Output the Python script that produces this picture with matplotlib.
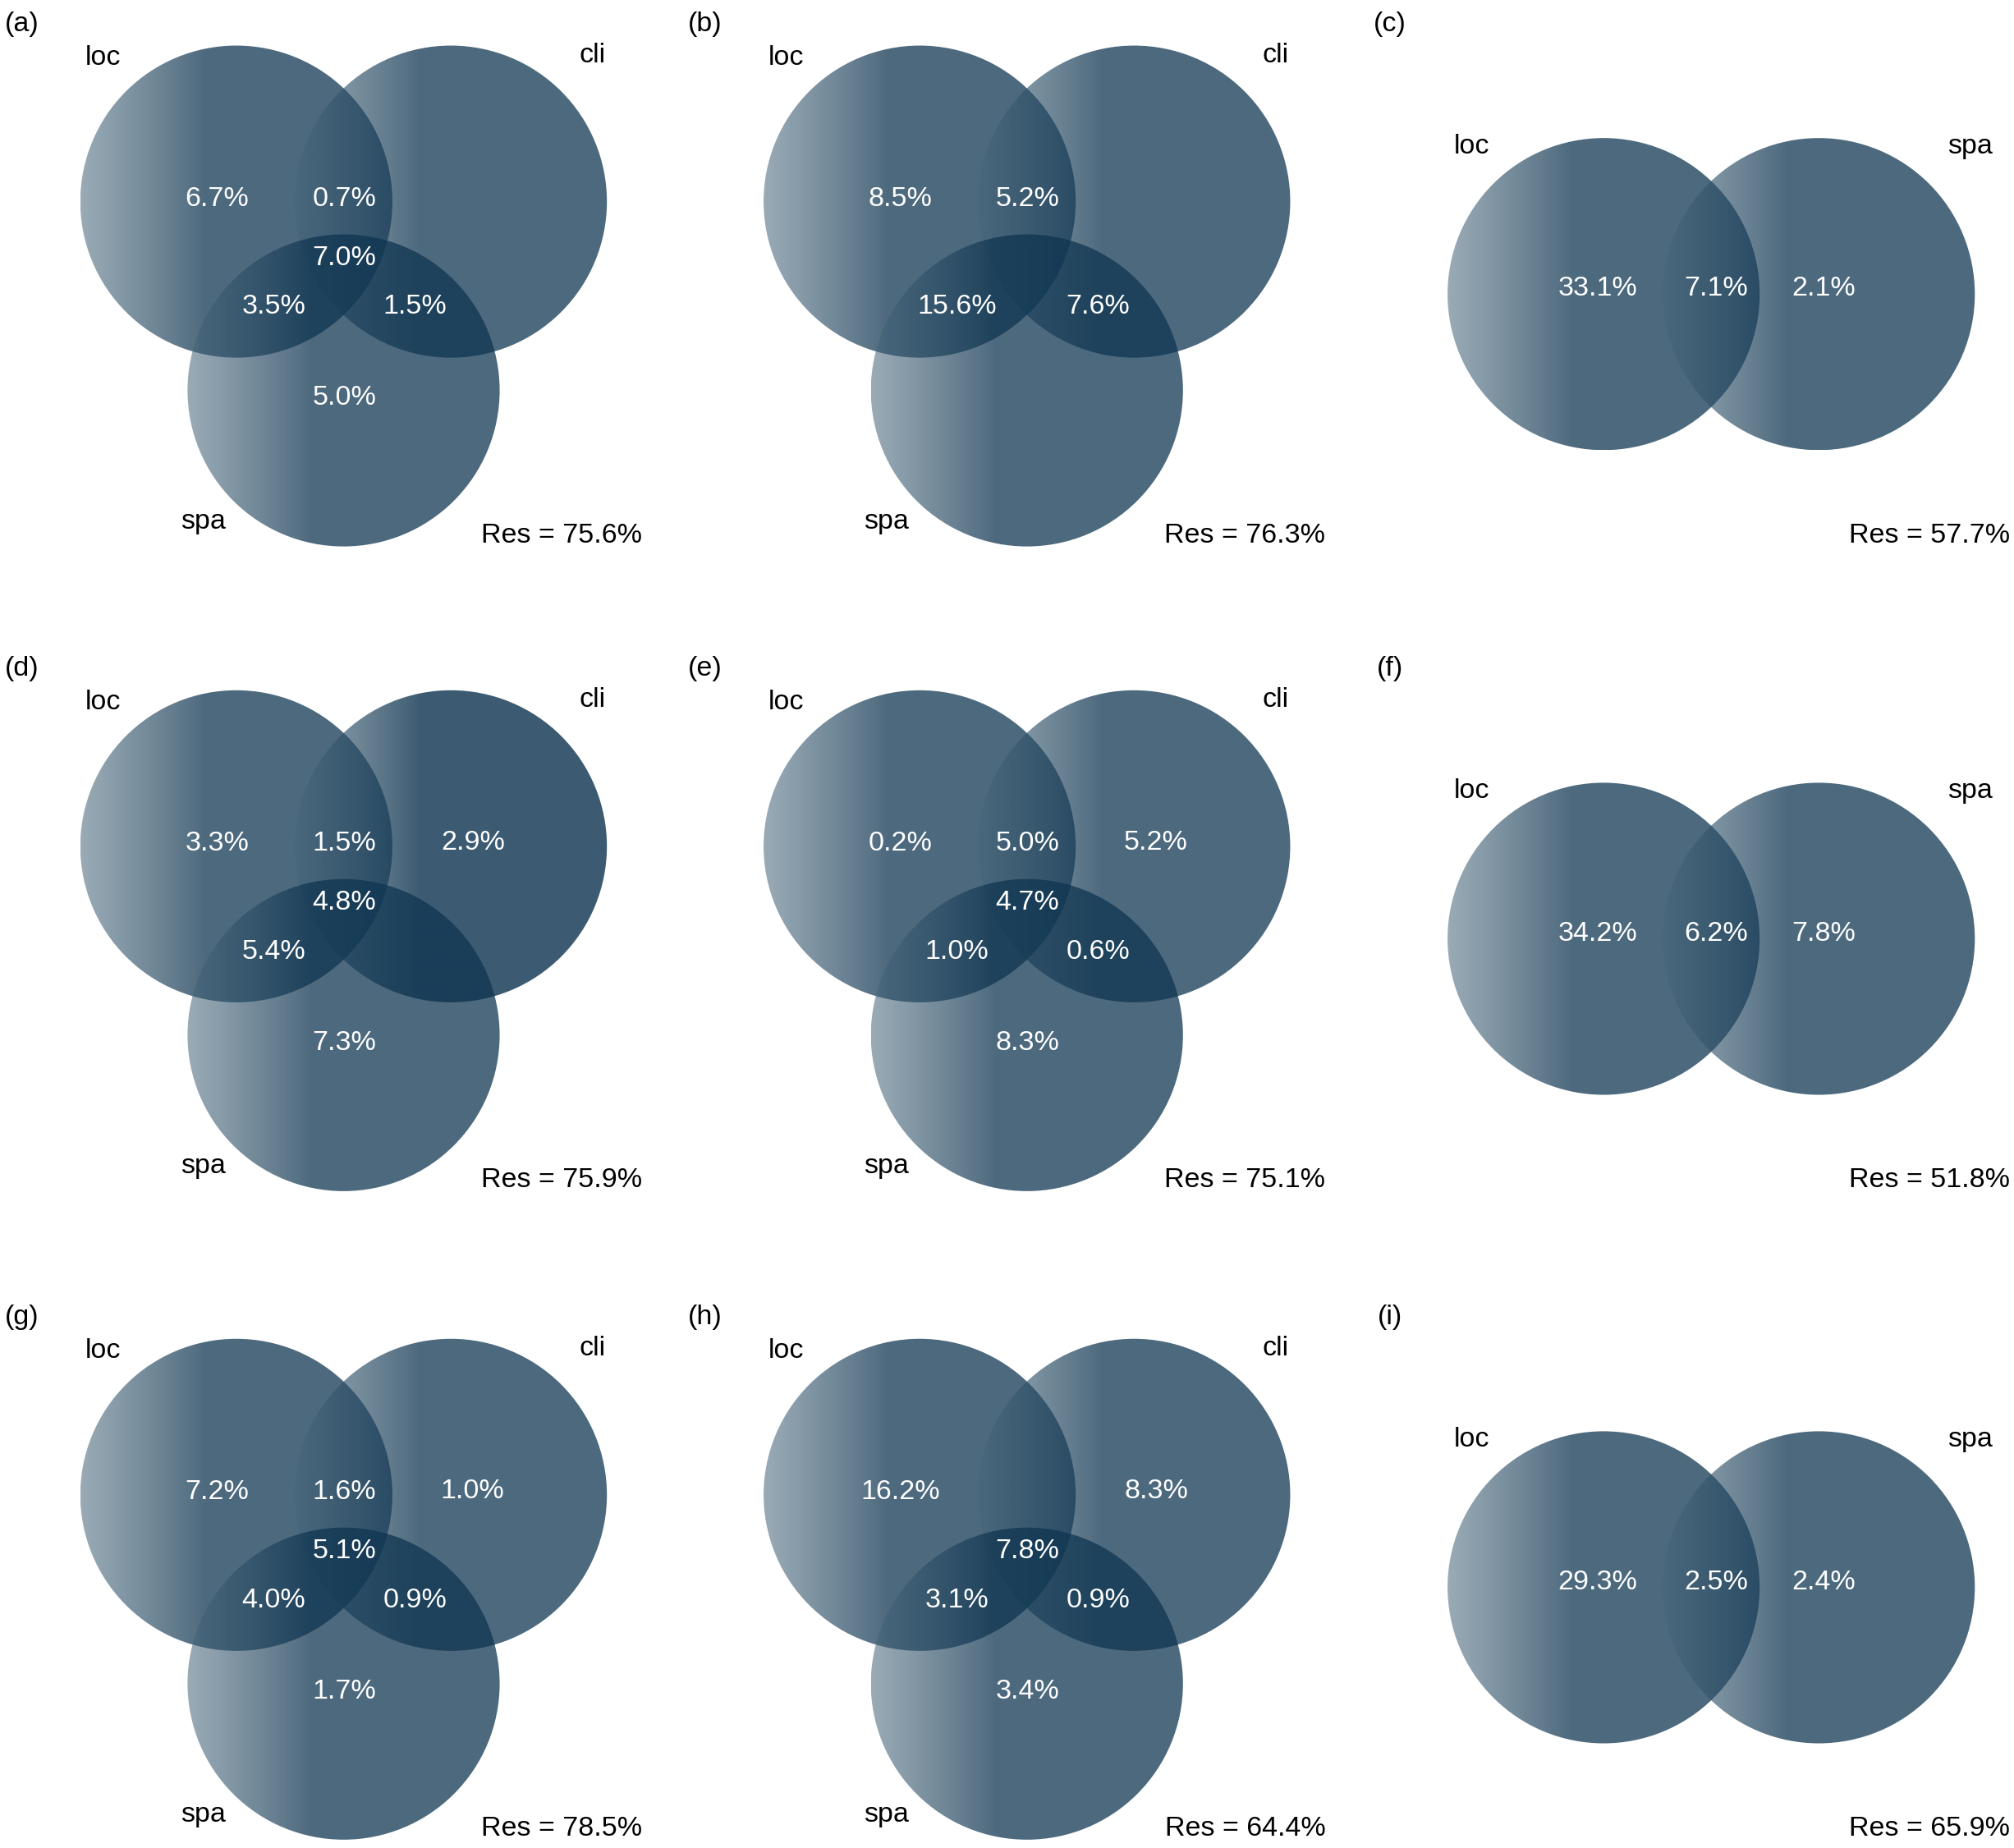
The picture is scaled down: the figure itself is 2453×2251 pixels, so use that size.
import numpy as np
import matplotlib.pyplot as plt
from matplotlib.patches import Circle

plt.rcParams['font.family'] = ['Liberation Sans', 'DejaVu Sans']

# Data (percent of explained variance, None = not shown)
panel_tags = ['(a)', '(b)', '(c)', '(d)', '(e)', '(f)', '(g)', '(h)', '(i)']
three_way = [True, True, False, True, True, False, True, True, False]

# three-set panels: loc only, cli only, spa only, loc&cli, loc&spa, cli&spa, all
loc_only = [6.7, 8.5, 33.1, 3.3, 0.2, 34.2, 7.2, 16.2, 29.3]
cli_only = [None, None, None, 2.9, 5.2, None, 1.0, 8.3, None]
spa_only = [5.0, None, 2.1, 7.3, 8.3, 7.8, 1.7, 3.4, 2.4]
loc_cli = [0.7, 5.2, None, 1.5, 5.0, None, 1.6, None, None]
loc_spa = [3.5, 15.6, 7.1, 5.4, 1.0, 6.2, 4.0, 3.1, 2.5]
cli_spa = [1.5, 7.6, None, None, 0.6, None, 0.9, 0.9, None]
all_three = [7.0, None, None, 4.8, 4.7, None, 5.1, 7.8, None]
residual = [75.6, 76.3, 57.7, 75.9, 75.1, 51.8, 78.5, 64.4, 65.9]

# strength of the "cli" disc (panel d draws it a bit darker)
cli_alpha = [0.74, 0.74, 0.74, 0.81, 0.74, 0.74, 0.74, 0.74, 0.74]

# Layout (reference pixel grid 1568 x 1439)
W, H = 1568, 1439
col_x = [0, 532, 1065]
row_y = [0, 502, 1007]
R = 121.5
edge_rgb = np.array([71, 102, 122]) / 255   # left rim of each disc
base_rgb = np.array([14, 52, 80]) / 255     # body of each disc
FS = 24.5

fig = plt.figure(figsize=(24.53, 22.51), dpi=100)
ax = fig.add_axes([0, 0, 1, 1])


def disc(cx, cy, amax, a0=0.55, ramp=0.40):
    frac = np.linspace(0, 1, 400)
    t = np.clip(frac / ramp, 0, 1)
    img = np.zeros((2, 400, 4))
    img[..., :3] = edge_rgb[None, :] * (1 - t[:, None]) + base_rgb[None, :] * t[:, None]
    img[..., 3] = a0 + (amax - a0) * t
    im = ax.imshow(img, extent=(cx - R, cx + R, cy + R, cy - R),
                   interpolation='bilinear', aspect='auto', zorder=1)
    im.set_clip_path(Circle((cx, cy), R, transform=ax.transData))


def num(x, y, v):
    if v is not None:
        ax.text(x, y, f'{v:.1f}%', color='white', fontsize=FS,
                ha='center', va='center', zorder=3)


def label(x, y, s, ha='center'):
    ax.text(x, y, s, color='black', fontsize=FS, ha=ha, va='center', zorder=3)


for i in range(9):
    ox = col_x[i % 3]
    oy = row_y[i // 3]
    label(ox + 17, oy + 19, panel_tags[i])
    if three_way[i]:
        disc(ox + 184, oy + 157, 0.74)
        disc(ox + 351, oy + 157, cli_alpha[i])
        disc(ox + 267.5, oy + 304, 0.74)
        label(ox + 80, oy + 45, 'loc')
        label(ox + 461, oy + 43, 'cli')
        label(ox + 158, oy + 406, 'spa')
        num(ox + 169, oy + 155, loc_only[i])
        num(ox + 268, oy + 155, loc_cli[i])
        num(ox + 368, oy + 154, cli_only[i])
        num(ox + 268, oy + 201, all_three[i])
        num(ox + 213, oy + 239, loc_spa[i])
        num(ox + 323, oy + 239, cli_spa[i])
        num(ox + 268, oy + 310, spa_only[i])
    else:
        cy = oy + 229
        disc(ox + 183.5, cy, 0.74)
        disc(ox + 351, cy, 0.74)
        label(ox + 81, oy + 114, 'loc')
        label(ox + 469, oy + 114, 'spa')
        num(ox + 179, cy - 4, loc_only[i])
        num(ox + 271, cy - 4, loc_spa[i])
        num(ox + 355, cy - 4, spa_only[i])
    label(ox + 500, oy + 417, f'Res = {residual[i]:.1f}%', ha='right')

ax.set_xlim(0, W)
ax.set_ylim(H, 0)
ax.axis('off')

fig.savefig('out.png', dpi=100, facecolor='white')
